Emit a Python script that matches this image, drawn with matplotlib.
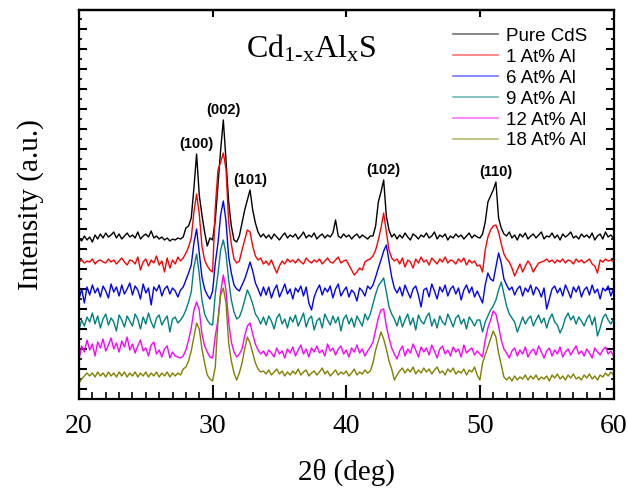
import numpy as np
import matplotlib
matplotlib.use("Agg")
from matplotlib import pyplot as plt
from matplotlib.ticker import MultipleLocator, FixedLocator

# XRD scans of Cd(1-x)Al(x)S films, intensity (a.u., above each trace's own baseline)
two_theta = np.round(np.arange(20.0, 60.01, 0.2), 1)

pure_cds = [
    2, -1, 4, 0, 3, -2, 5, 1, 6, 2,
    7, 3, 5, 8, 2, 6, 1, 4, 7, 3,
    5, 2, 8, 1, 4, 6, 3, 9, 2, 4,
    1, 3, 0, 2, -1, 1, 0, 2, 1, 3,
    12, 14, 22, 52, 86, 45, 25, 8, -6, 2,
    0, 20, 55, 90, 120, 80, 38, 14, 0, -2,
    4, 17, 30, 40, 50, 30, 17, 8, 3, 6,
    2, 5, 1, 6, 3, 0, 4, 7, 2, 5,
    3, 6, 1, 4, 8, 2, 5, 3, 7, 1,
    4, 6, 2, 5, 3, 7, 20, 4, 2, 6,
    3, 5, 1, 4, 6, 2, 5, 3, 1, 4,
    4, 14, 38, 48, 60, 24, 10, 3, 6, 1,
    5, 2, 7, 3, 0, 6, 4, 1, 5, 3,
    7, 2, 4, 8, 1, 5, 3, 6, 0, 4,
    2, 6, 3, 5, 1, 4, 7, 2, 5, 3,
    2, 6, 18, 38, 44, 50, 58, 22, 12, 6,
    4, 8, 2, 5, 0, 6, 3, 7, 1, 4,
    6, 2, 5, 8, 1, 4, 3, 7, 2, 5,
    0, 6, 3, 5, 8, 2, 4, 1, 6, 3,
    5, 2, 7, 0, 4, 6, 1, 8, 3, 5, 2]

al_1 = [
    0, 2, -1, 1, 0, 3, -2, 1, 2, 0,
    -1, 3, 0, 2, -2, 1, 4, 0, -3, 2,
    1, -2, 5, -8, 0, 3, -4, 2, -1, 6,
    -3, 1, -10, 4, -6, 2, -2, 5, 1, 4,
    9, 15, 24, 50, 68, 48, 16, 2, -4, -8,
    -10, 55, 92, 100, 109, 93, 40, 18, 3, -1,
    1, 12, 22, 32, 30, 16, 6, 2, 4, -2,
    1, -3, 2, -5, -11, -4, 1, -2, 3, 0,
    2, -1, 3, 0, -2, 4, 1, -1, 2, 0,
    3, -2, 1, 4, 0, -1, 2, 5, -1, 1,
    2, -3, -8, -13, -10, -6, -8, 0, 2, 3,
    6, 12, 22, 34, 49, 30, 12, 4, 1, 3,
    -2, 4, -5, 2, 0, -6, 3, -1, 5, 0,
    2, -3, 4, 1, -2, 3, 0, 5, -1, 2,
    1, -2, 3, 0, 4, -3, 2, -1, 1, -4,
    -3, -10, 12, 25, 32, 36, 37, 30, 18, 8,
    3, 0, -6, -14, -8, -2, -10, -4, 1, -3,
    -10, -5, -1, 0, 1, 3, 0, 2, -1, 2,
    0, 3, -1, 2, 1, -2, 3, 0, 2, -1,
    1, 3, -2, -4, -11, 2, 0, 3, 1, 2, 0]

al_6 = [
    -6, 4, -10, 6, -2, 8, 0, 5, -4, 7,
    2, -5, 9, 1, 6, -3, 8, -1, 4, 10,
    -2, 7, 3, -6, 9, 0, 5, -12, 6, 2,
    8, -3, 4, 7, -1, 5, 2, -4, 3, 6,
    13, 20, 28, 50, 64, 40, 16, 4, -2, -6,
    2, 30, 50, 78, 92, 72, 36, 20, 8, 4,
    2, 8, 14, 22, 31, 22, 10, 4, -3, 6,
    -2, 6, -5, 3, 8, -4, 2, 9, -1, 4,
    -6, 5, 1, 7, -3, 6, -10, -17, -4, 3,
    8, -2, 5, 1, 7, -5, 4, 9, -3, 2,
    6, -4, 3, 0, -8, 5, 2, -3, 7, 4,
    8, 16, 25, 33, 42, 48, 32, 16, 5, 0,
    6, -3, 8, 1, -5, 4, 7, -2, -14, 3,
    5, -4, 9, 2, -6, 6, 1, 8, -3, 4,
    7, -1, 5, -7, 3, 8, 0, 6, -4, 2,
    -4, -10, 8, 20, 14, 12, 26, 40, 30, 14,
    8, 3, 6, -2, 4, 7, -3, 5, 1, 8,
    -2, 6, 3, -4, 5, -16, -6, 4, 7, 0,
    5, -3, 8, 2, -5, 6, 1, 7, -4, 3,
    6, -2, 8, 0, 4, -6, 5, 2, 7, -3, 4]

al_9 = [
    -8, 2, -4, 5, 0, 9, -2, 6, -6, 3,
    8, -3, 4, 0, -9, 7, 2, -5, 6, 1,
    -4, 8, 3, -7, 5, -2, 9, 0, -6, 4,
    7, -3, 2, 6, -10, 3, 5, -1, 2, 6,
    12, 20, 30, 55, 68, 48, 22, 8, 2, -2,
    -3, 28, 48, 72, 82, 68, 42, 22, 10, 3,
    5, 12, 22, 32, 26, 18, 8, 4, -2, 5,
    -3, 6, 1, -7, 4, 8, -2, 3, -6, 5,
    0, 7, -4, 2, 9, -5, 3, 6, -8, 1,
    4, -6, 8, 2, -3, 6, -1, 5, -9, 3,
    7, -2, 4, -5, 6, 1, -4, 8, 2, 8,
    18, 28, 36, 40, 44, 30, 15, 8, 3, -4,
    6, -5, 2, 8, -3, 4, -8, 7, 1, -2,
    5, 9, -4, 3, -6, 6, 0, -3, 8, 2,
    -5, 4, 7, -2, 3, -7, 5, 1, -4, 2,
    2, -10, 0, 6, 12, 16, 22, 32, 40, 28,
    16, 8, 4, 0, -10, -3, 5, -2, 3, 6,
    -4, 2, 7, -1, 4, -6, 3, 8, 0, -3,
    -11, -5, 4, 9, 2, 6, -2, 5, 1, -4,
    3, 7, -3, 5, -14, -6, 4, 8, 2, -2, 3]

al_12 = [
    -6, 8, 2, 14, 4, 10, -2, 12, 6, 15,
    3, 9, 16, 5, 11, 2, 13, 7, 17, 4,
    10, 1, 8, 14, 3, 6, -2, 9, 12, 0,
    4, -3, 5, 8, -4, 2, -2, -3, -4, -2,
    4, 14, 26, 44, 52, 44, 20, 8, 2, -3,
    -4, 18, 34, 62, 79, 64, 32, 12, 2, -3,
    0, 5, 18, 28, 31, 20, 10, 4, 0, 3,
    -2, 4, 1, -3, 6, 0, 3, -4, 5, 1,
    7, -2, 4, 9, 0, 5, -3, 6, 2, 8,
    1, 4, -2, 10, 3, 6, -1, 5, 8, 0,
    4, -3, 6, 2, 9, 1, 5, -2, 3, 7,
    12, 24, 36, 44, 45, 28, 16, 6, 0, -5,
    3, 8, -2, 5, 1, 10, 4, -3, 7, 2,
    6, -1, 9, 3, -4, 5, 8, 0, 4, -2,
    7, 2, 5, -3, 9, 1, 4, 6, -1, 3,
    0, -3, 14, 26, 34, 43, 40, 28, 14, 5,
    1, -4, 3, 6, -2, 4, 0, 7, -3, 2,
    5, -1, 8, 2, -4, 3, 6, -2, 4, 0,
    7, -3, 2, 5, -1, 4, 8, 0, 3, -2,
    5, 1, -4, 6, 2, -1, 4, 7, 0, 3, -2]

al_18 = [
    -6, -2, 1, 4, 1, 4, 0, 5, 1, 4,
    0, 5, 1, 4, 0, 5, 1, 5, 0, 4,
    1, 5, 0, 4, 1, 5, 0, 4, 1, 5,
    0, 4, 1, 5, 0, 4, 1, 4, 2, 8,
    10, 16, 26, 40, 54, 48, 28, 14, 2, -2,
    -4, 10, 56, 82, 89, 74, 34, 16, 4, -3,
    4, 14, 28, 40, 34, 24, 14, 8, 5, 6,
    3, 7, 2, 5, 8, 3, 6, 1, 5, 2,
    6, 3, 8, 2, 5, 7, 1, 4, 6, 2,
    5, 9, 3, 6, 1, 4, 7, 2, 5, 3,
    6, 1, 4, 8, 2, 5, 3, 7, 4, 6,
    14, 27, 36, 45, 38, 28, 16, 8, -3, 2,
    6, 9, 4, 8, 5, 10, 3, 7, 4, 9,
    5, 8, 3, 7, 10, 4, 6, 2, 8, 5,
    9, 3, 6, 4, 8, 2, 7, 5, 10, 2,
    -3, 14, 22, 30, 38, 46, 40, 24, 12, 0,
    -3, 0, -4, 1, -3, 0, -2, 2, -3, 1,
    -2, 2, -3, 0, -2, 1, -4, 2, -1, 3,
    -2, 1, -3, 2, -1, 3, -2, 0, -3, 2,
    -1, 3, -2, 1, -3, 2, 0, 4, 1, 5, 2]

series = [pure_cds, al_1, al_6, al_9, al_12, al_18]
labels = ['Pure CdS', '1 At% Al', '6 At% Al', '9 At% Al', '12 At% Al', '18 At% Al']
colors = ['black', '#ff0000', '#0000ff', '#008080', '#ff00ff', '#808000']
stack_offset = [159, 137, 106, 77, 45, 22]

peak_hkl = ['(100)', '(002)', '(101)', '(102)', '(110)']
peak_2theta = [28.8, 30.8, 32.8, 42.8, 51.2]

plt.rcParams['mathtext.fontset'] = 'custom'
plt.rcParams['mathtext.rm'] = 'Liberation Serif'
plt.rcParams['mathtext.it'] = 'Liberation Serif:italic'

fig = plt.figure(figsize=(6.28, 4.90), dpi=100)
ax = fig.add_axes([79 / 628, 1 - 399 / 490, 534.5 / 628, 389 / 490])

lines = []
for vals, lab, col, off in zip(series, labels, colors, stack_offset):
    ln, = ax.plot(two_theta, np.array(vals) + off, color=col, lw=1.0, label=lab)
    lines.append(ln)

ax.set_xlim(20, 60)
ax.set_ylim(0, 389)

serif = 'Liberation Serif'
ax.set_xlabel('2θ (deg)', family=serif, fontsize=21, labelpad=14)
ax.set_ylabel('Intensity (a.u.)', family=serif, fontsize=21, labelpad=22)

ax.xaxis.set_major_locator(MultipleLocator(10))
ax.xaxis.set_minor_locator(MultipleLocator(1))
ax.yaxis.set_major_locator(FixedLocator(np.arange(10, 389, 20)))
ax.yaxis.set_minor_locator(FixedLocator(np.arange(20, 389, 20)))
ax.tick_params(axis='x', which='major', direction='in', length=10, width=1.5, pad=11, labelsize=20)
ax.tick_params(axis='x', which='minor', direction='in', length=5, width=1.2)
ax.tick_params(axis='y', which='major', direction='in', length=5.8, width=1.5, left=True, right=True, labelleft=False)
ax.tick_params(axis='y', which='minor', direction='in', length=2.2, width=1.2, left=True, right=True)
for t in ax.get_xticklabels():
    t.set_family(serif)
for sp in ax.spines.values():
    sp.set_linewidth(1.6)

top = ax.secondary_xaxis('top')
top.xaxis.set_major_locator(MultipleLocator(10))
top.tick_params(direction='in', length=5, width=1.5, labeltop=False)
top.spines['top'].set_linewidth(1.6)

# peak labels sit just above the pure CdS trace
for hkl, pos in zip(peak_hkl, peak_2theta):
    i = int(np.argmin(np.abs(two_theta - pos)))
    ax.text(pos, pure_cds[i] + stack_offset[0] + 10, hkl, ha='center', va='center',
            family='Liberation Sans', fontweight='bold', fontsize=10.5)

ax.text(0.312, 0.879, r'$\mathrm{Cd_{1\text{-}x}Al_{x}S}$', transform=ax.transAxes,
        ha='left', va='baseline', fontsize=23)

leg = ax.legend(handles=lines, loc='upper left', bbox_to_anchor=(0.70, 0.954), frameon=False,
                prop={'family': 'Liberation Sans', 'size': 13.5}, handlelength=2.4,
                handletextpad=0.4, labelspacing=0.2, borderpad=0, borderaxespad=0)
for h in leg.get_lines():
    h.set_alpha(0.55)
    h.set_linewidth(1.2)

fig.savefig('out.png', dpi=100)
